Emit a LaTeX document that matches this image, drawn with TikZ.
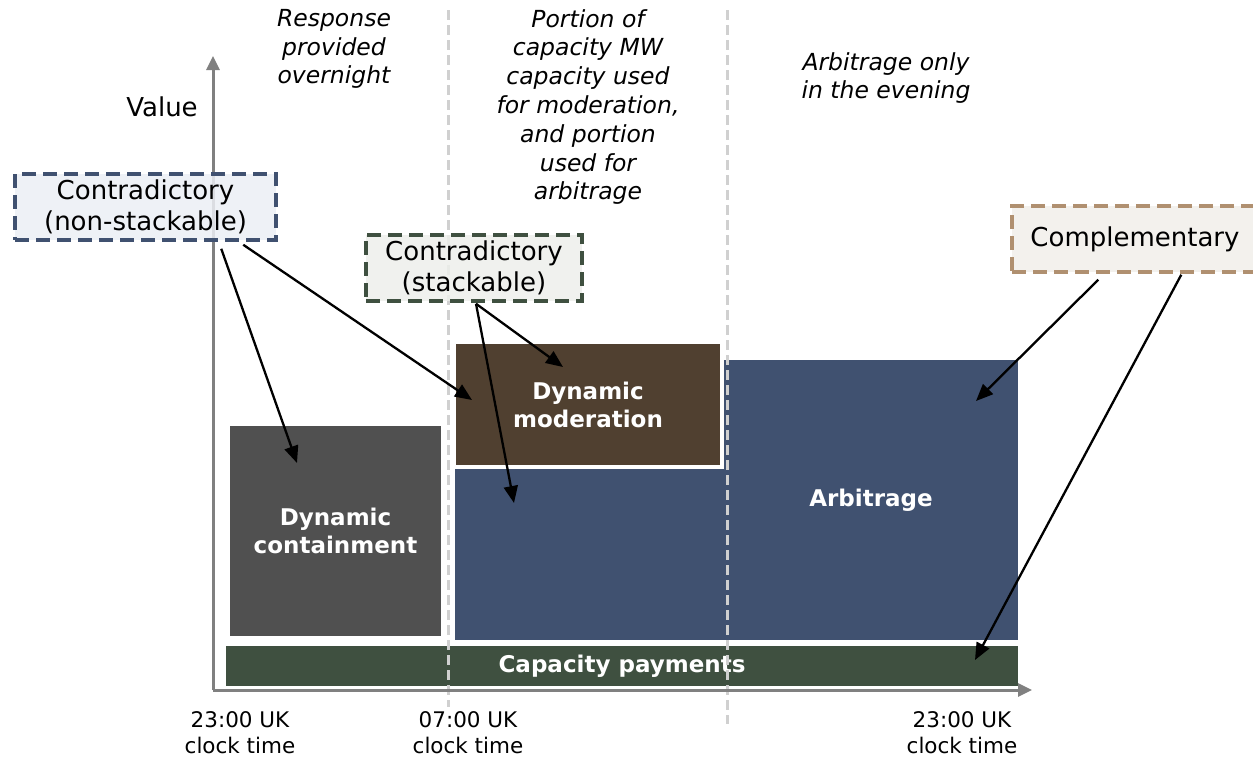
\documentclass[tikz,border=0pt]{standalone}
\usepackage{fontspec}
\setmainfont{DejaVu Sans}
\usetikzlibrary{arrows.meta}

\definecolor{dcgray}{RGB}{80,80,80}
\definecolor{arbblue}{RGB}{64,81,112}
\definecolor{modbrown}{RGB}{80,64,48}
\definecolor{capgreen}{RGB}{63,80,64}
\definecolor{nsfill}{RGB}{235,238,244}
\definecolor{stfill}{RGB}{237,239,235}
\definecolor{cpfill}{RGB}{241,238,234}
\definecolor{cpline}{RGB}{176,144,112}
\definecolor{divgray}{RGB}{208,208,208}
\definecolor{axisgray}{RGB}{128,128,128}

\tikzset{
  bar/.style={inner sep=0pt, text=white, align=center, font=\bfseries\fontsize{23}{28}\selectfont},
  tag/.style={inner sep=0pt, line width=3.5pt, dash pattern=on 14pt off 7pt, fill opacity=0.85, text opacity=1, align=center, font=\fontsize{26}{31}\selectfont},
  note/.style={align=center, font=\itshape\fontsize{23.5}{28.8}\selectfont},
  tick/.style={align=center, font=\fontsize{21.5}{26}\selectfont},
  pointer/.style={line width=2.3pt, -{Triangle[length=17pt,width=14pt]}},
  axisline/.style={axisgray, line width=3pt, -{Triangle[length=14pt,width=13pt]}},
  divider/.style={divgray, line width=3pt, dash pattern=on 10pt off 5pt}
}

\begin{document}
\begin{tikzpicture}[x=1pt,y=-1pt]

\useasboundingbox (0,0) rectangle (1253,758);

\node[bar, fill=dcgray, minimum width=211pt, minimum height=210pt] (contain) at (335.5,531) {Dynamic\\containment};
\node[bar, fill=arbblue, minimum width=270pt, minimum height=171pt] (lowblue) at (590,554.5) {};
\node[bar, fill=arbblue, minimum width=294pt, minimum height=280pt] (arbitrage) at (871,500) {Arbitrage};
\node[bar, fill=modbrown, minimum width=264pt, minimum height=121pt] (moderation) at (588,404.5) {Dynamic\\moderation};
\node[bar, fill=capgreen, minimum width=792pt, minimum height=40pt] (capacity) at (622,666) {Capacity payments};

\draw[divider] (448,10) -- (448,707);
\draw[divider] (727,10) -- (727,724);

\coordinate (origin) at (213,690);
\coordinate (ytop) at (213,56);
\coordinate (xend) at (1032,690);
\draw[axisline] (origin) -- (ytop);
\draw[axisline] (origin) -- (xend);

\node[tag, draw=arbblue, fill=nsfill, minimum width=261pt, minimum height=66pt] (nonstack) at (145.5,207) {Contradictory\\(non-stackable)};
\node[tag, draw=capgreen, fill=stfill, minimum width=216pt, minimum height=66pt] (stack) at (474,268) {Contradictory\\(stackable)};
\node[tag, draw=cpline, fill=cpfill, minimum width=246pt, minimum height=66pt] (compl) at (1135,239) {Complementary};

\coordinate (containpt) at (297,463);
\coordinate (modleft) at (472,400);
\coordinate (modtop) at (563,367);
\coordinate (bluept) at (514,503);
\coordinate (arbpt) at (976,401);
\coordinate (cappt) at (975,660);

\draw[pointer] ([xshift=208pt,yshift=-7pt]nonstack.south west) -- (containpt);
\draw[pointer] ([xshift=230pt,yshift=-3pt]nonstack.south west) -- (modleft);
\draw[pointer] ([xshift=2pt,yshift=-1pt]stack.south) -- (modtop);
\draw[pointer] ([xshift=2pt,yshift=-1pt]stack.south) -- (bluept);
\draw[pointer] ([xshift=88pt,yshift=-6pt]compl.south west) -- (arbpt);
\draw[pointer] ([xshift=171pt,yshift=-1pt]compl.south west) -- (cappt);

\node[note] (overnight) at (334,49) {Response\\provided\\overnight};
\node[note] (portion) at (588,107) {Portion of\\capacity MW\\capacity used\\for moderation,\\and portion\\used for\\arbitrage};
\node[note] (evening) at (886,78) {Arbitrage only\\in the evening};

\node[font=\fontsize{26}{31}\selectfont] (value) at (162,107) {Value};

\node[tick] (tstart) at (240,733) {23:00 UK\\clock time};
\node[tick] (tmorning) at (468,733) {07:00 UK\\clock time};
\node[tick] (tend) at (962,733) {23:00 UK\\clock time};

\end{tikzpicture}
\end{document}
